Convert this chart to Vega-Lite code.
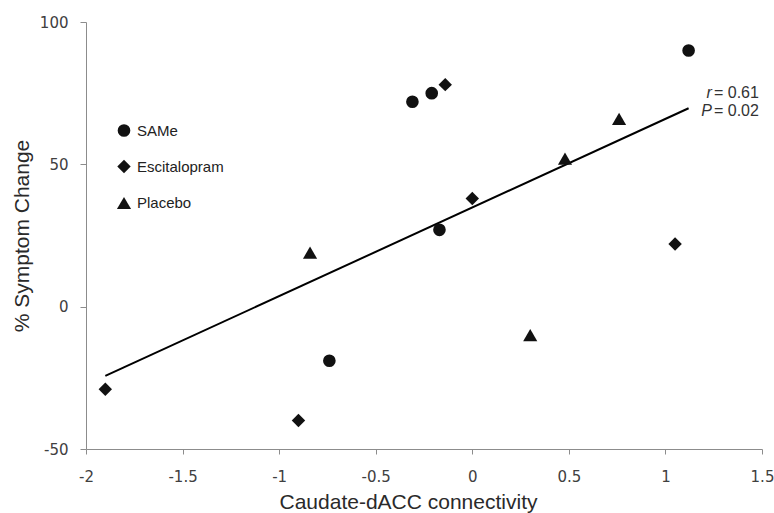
{
  "$schema": "https://vega.github.io/schema/vega-lite/v6.json",
  "width": 676,
  "height": 427,
  "autosize": {"type": "none"},
  "padding": {"left": 86, "top": 22, "right": 12, "bottom": 64},
  "background": "white",
  "config": {"view": {"stroke": null}, "font": "Liberation Sans"},
  "datasets": {
    "points": [
      {"connectivity": 1.12, "change": 90, "group": "SAMe"},
      {"connectivity": -0.31, "change": 72, "group": "SAMe"},
      {"connectivity": -0.21, "change": 75, "group": "SAMe"},
      {"connectivity": -0.17, "change": 27, "group": "SAMe"},
      {"connectivity": -0.74, "change": -19, "group": "SAMe"},
      {"connectivity": -0.14, "change": 78, "group": "Escitalopram"},
      {"connectivity": 0.0, "change": 38, "group": "Escitalopram"},
      {"connectivity": 1.05, "change": 22, "group": "Escitalopram"},
      {"connectivity": -1.9, "change": -29, "group": "Escitalopram"},
      {"connectivity": -0.9, "change": -40, "group": "Escitalopram"},
      {"connectivity": 0.76, "change": 66, "group": "Placebo"},
      {"connectivity": 0.48, "change": 52, "group": "Placebo"},
      {"connectivity": -0.84, "change": 19, "group": "Placebo"},
      {"connectivity": 0.3, "change": -10, "group": "Placebo"}
    ],
    "notes": [
      {"x": 1.246, "y": 75.2, "stat": "r", "value": "= 0.61"},
      {"x": 1.246, "y": 68.8, "stat": "P", "value": "= 0.02"}
    ]
  },
  "layer": [
    {
      "data": {"name": "points"},
      "transform": [{"regression": "change", "on": "connectivity"}],
      "mark": {"type": "line", "color": "#000000", "strokeWidth": 2},
      "encoding": {
        "x": {"field": "connectivity", "type": "quantitative", "scale": {"domain": [-2, 1.5], "nice": false, "zero": false}},
        "y": {"field": "change", "type": "quantitative", "scale": {"domain": [-50, 100], "nice": false, "zero": false}}
      }
    },
    {
      "data": {"name": "points"},
      "mark": {"type": "point", "filled": true, "opacity": 1, "color": "#111111"},
      "encoding": {
        "x": {
          "field": "connectivity", "type": "quantitative",
          "scale": {"domain": [-2, 1.5], "nice": false, "zero": false},
          "axis": {
            "title": "Caudate-dACC connectivity",
            "values": [-2, -1.5, -1, -0.5, 0, 0.5, 1, 1.5],
            "labelExpr": "replace(format(datum.value, '~g'), '−', '-')",
            "grid": false, "tickSize": 5, "domainColor": "#8c8c8c", "tickColor": "#8c8c8c",
            "labelFont": "DejaVu Sans", "labelFontSize": 15, "labelColor": "#404040",
            "labelPadding": 15, "labelFlush": false,
            "titleFont": "Liberation Sans", "titleFontSize": 21, "titleFontWeight": "normal",
            "titleColor": "#2a2a2a", "titlePadding": 7, "titleX": 322
          }
        },
        "y": {
          "field": "change", "type": "quantitative",
          "scale": {"domain": [-50, 100], "nice": false, "zero": false},
          "axis": {
            "title": "% Symptom Change",
            "values": [-50, 0, 50, 100],
            "labelExpr": "replace(format(datum.value, '~g'), '−', '-')",
            "grid": false, "tickSize": 6, "domainColor": "#8c8c8c", "tickColor": "#8c8c8c",
            "labelFont": "DejaVu Sans", "labelFontSize": 15, "labelColor": "#404040",
            "labelPadding": 12, "labelFlush": false,
            "titleFont": "Liberation Sans", "titleFontSize": 21, "titleFontWeight": "normal",
            "titleColor": "#2a2a2a", "titlePadding": 7
          }
        },
        "shape": {
          "field": "group", "type": "nominal",
          "scale": {"domain": ["SAMe", "Escitalopram", "Placebo"], "range": ["circle", "diamond", "triangle-up"]},
          "legend": {
            "orient": "none", "legendX": 30, "legendY": 101, "title": null, "padding": 0,
            "labelFont": "Liberation Sans", "labelFontSize": 15, "labelColor": "#222222",
            "labelOffset": 5, "rowPadding": 16, "symbolFillColor": "#111111", "symbolStrokeColor": "#111111"
          }
        },
        "size": {
          "field": "group", "type": "nominal",
          "scale": {"domain": ["SAMe", "Escitalopram", "Placebo"], "range": [160, 200, 235]},
          "legend": {
            "orient": "none", "legendX": 30, "legendY": 101, "title": null, "padding": 0,
            "labelFont": "Liberation Sans", "labelFontSize": 15, "labelColor": "#222222",
            "labelOffset": 5, "rowPadding": 16, "symbolFillColor": "#111111", "symbolStrokeColor": "#111111"
          }
        }
      }
    },
    {
      "data": {"name": "notes"},
      "mark": {"type": "text", "align": "right", "baseline": "middle", "dx": -1, "font": "Liberation Sans", "fontSize": 16, "fontStyle": "italic", "color": "#333333"},
      "encoding": {
        "x": {"field": "x", "type": "quantitative"},
        "y": {"field": "y", "type": "quantitative"},
        "text": {"field": "stat"}
      }
    },
    {
      "data": {"name": "notes"},
      "mark": {"type": "text", "align": "left", "baseline": "middle", "dx": 1, "font": "Liberation Sans", "fontSize": 16, "color": "#333333"},
      "encoding": {
        "x": {"field": "x", "type": "quantitative"},
        "y": {"field": "y", "type": "quantitative"},
        "text": {"field": "value"}
      }
    }
  ]
}
